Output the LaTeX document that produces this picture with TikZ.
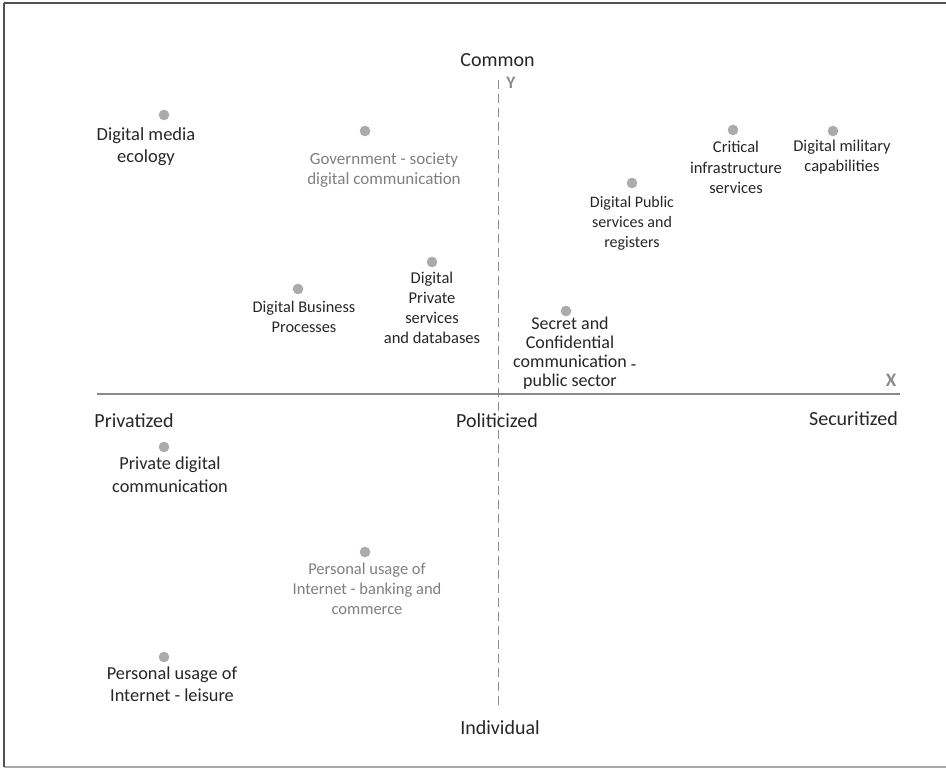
\documentclass[tikz,border=0pt]{standalone}
\usepackage{fontspec}
\setmainfont{Carlito}
\definecolor{txt}{HTML}{262626}
\definecolor{greytxt}{HTML}{7F7F7F}
\definecolor{dotc}{HTML}{ABABAB}
\definecolor{axisc}{HTML}{8A8A8A}
\definecolor{framedark}{HTML}{505050}
\definecolor{framelight}{HTML}{A8A8A8}
\tikzset{
  dotnode/.style={circle, fill=dotc, draw=none, minimum size=10.6pt, inner sep=0pt},
  item/.style={anchor=north, inner sep=0pt, align=center, text=txt},
  greyitem/.style={item, text=greytxt},
  axlabel/.style={anchor=base, inner sep=0pt, text=txt, font={\fontsize{20}{24}\selectfont}},
  axname/.style={anchor=base, inner sep=0pt, text=axisc, font={\bfseries\fontsize{19}{22}\selectfont}},
}
\newcommand{\fs}[2]{\fontsize{#1}{#2}\selectfont}
\begin{document}
\begin{tikzpicture}[x=1pt, y=-1pt]
\useasboundingbox (0,0) rectangle (946,769);
% frame
\coordinate (ftl) at (4,3);
\coordinate (fbl) at (4,767);
\coordinate (ftr) at (946,3);
\coordinate (fbr) at (946,767);
\draw[framelight, line width=1.5pt] (fbl) -- (fbr);
\draw[framedark, line width=1.5pt] (ftl) -- (ftr);
\draw[framedark, line width=2pt] (ftl) -- (fbl);
% axes
\coordinate (xl) at (97,394);
\coordinate (xr) at (900,394);
\coordinate (yt) at (498,80);
\coordinate (yb) at (498,708);
\draw[axisc, line width=1.5pt] (xl) -- (xr);
\draw[axisc, line width=0.9pt, dash pattern=on 9pt off 5pt] (yt) -- (yb);
\node[axname] (X) at (891,386) {X};
\node[axname, font={\bfseries\fontsize{17.5}{20}\selectfont}] (Y) at (511,88) {Y};
% axis labels
\node[axlabel] (common) at (497.5,66) {Common};
\node[axlabel] (privatized) at (134,427) {Privatized};
\node[axlabel] (politicized) at (497,427) {Politicized};
\node[axlabel] (securitized) at (853.5,425) {Securitized};
\node[axlabel] (individual) at (500,734) {Individual};
% items
\node[dotnode] (d1) at (164,115) {};
\node[item, font=\fs{18.5}{22}] (t1) at (146,127) {Digital media\\ecology};
\node[dotnode] (d2) at (365,131) {};
\node[greyitem, font=\fs{17}{20}] (t2) at (384,153) {Government - society\\digital communication};
\node[dotnode] (d3) at (298,289) {};
\node[item, font=\fs{16.3}{20}] (t3) at (304,301) {Digital Business\\Processes};
\node[dotnode] (d4) at (432,262) {};
\node[item, font=\fs{16.5}{20}] (t4) at (432,272) {Digital\\Private\\services\\and databases};
\node[dotnode] (d5) at (733,130) {};
\node[item, font=\fs{16.5}{20.5}] (t5) at (736,141) {Critical\\infrastructure\\services};
\node[dotnode] (d6) at (833,131) {};
\node[item, font=\fs{16.5}{19.5}] (t6) at (842,140) {Digital military\\capabilities};
\node[dotnode] (d7) at (632,183) {};
\node[item, font=\fs{16}{20}] (t7) at (632,196) {Digital Public\\services and\\registers};
\node[dotnode] (d8) at (566,311) {};
\node[item, font=\fs{18}{19}] (t8) at (570,317) {Secret and\\Confidential\\communication\rlap{\ \raisebox{-0.35ex}{-}}\\public sector};
\node[dotnode] (d9) at (164,447) {};
\node[item, font=\fs{18.3}{23}] (t9) at (170,457) {Private digital\\communication};
\node[dotnode] (d10) at (365,552) {};
\node[greyitem, font=\fs{16.5}{20}] (t10) at (367,563) {Personal usage of\\Internet - banking and\\commerce};
\node[dotnode] (d11) at (164,657) {};
\node[item, font=\fs{18.3}{21.5}] (t11) at (172,667) {Personal usage of\\Internet - leisure};
\end{tikzpicture}
\end{document}
